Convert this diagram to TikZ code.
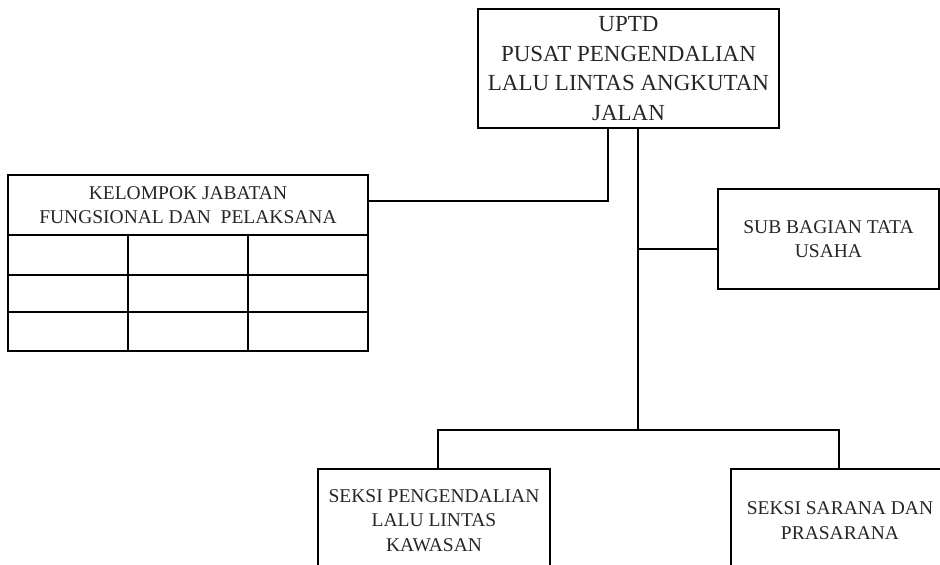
\documentclass[tikz,border=0pt]{standalone}
\usepackage{fontspec}
\setmainfont{Liberation Serif}
\begin{document}
\begin{tikzpicture}[x=1pt,y=-1pt,
  box/.style={draw, line width=1.3pt, inner sep=0pt, align=center, text=black!85},
  bigtxt/.style={font=\fontsize{23}{29.5}\selectfont},
  smalltxt/.style={font=\fontsize{19.5}{24.5}\selectfont},
  conn/.style={line width=1.3pt}]
\useasboundingbox (0,0) rectangle (940,565);
\clip (0,0) rectangle (940,565);
% top
\node[box, bigtxt, minimum width=301pt, minimum height=119pt] (top) at (628.5,68.5)
  {UPTD\\PUSAT PENGENDALIAN\\LALU LINTAS ANGKUTAN\\JALAN};
% kelompok
\node[box, smalltxt, minimum width=360pt, minimum height=60pt] (kel) at (188,205)
  {KELOMPOK JABATAN\\FUNGSIONAL DAN~~PELAKSANA};
\node[box, minimum width=120pt, minimum height=40pt] (c11) at (68,255) {};
\node[box, minimum width=120pt, minimum height=40pt] (c12) at (188,255) {};
\node[box, minimum width=120pt, minimum height=40pt] (c13) at (308,255) {};
\node[box, minimum width=120pt, minimum height=37pt] (c21) at (68,293.5) {};
\node[box, minimum width=120pt, minimum height=37pt] (c22) at (188,293.5) {};
\node[box, minimum width=120pt, minimum height=37pt] (c23) at (308,293.5) {};
\node[box, minimum width=120pt, minimum height=39pt] (c31) at (68,331.5) {};
\node[box, minimum width=120pt, minimum height=39pt] (c32) at (188,331.5) {};
\node[box, minimum width=120pt, minimum height=39pt] (c33) at (308,331.5) {};
% sub bagian
\node[box, smalltxt, minimum width=221pt, minimum height=100pt] (sub) at (828.5,239)
  {SUB BAGIAN TATA\\USAHA};
% seksi
\node[box, smalltxt, minimum width=232pt, minimum height=103pt] (s1) at (434,520.5)
  {SEKSI PENGENDALIAN\\LALU LINTAS\\KAWASAN};
\node[box, smalltxt, minimum width=218pt, minimum height=103pt] (s2) at (840,520.5)
  {SEKSI SARANA DAN\\PRASARANA};
\coordinate (hub) at (638,430);
% connectors
\draw[conn] ([xshift=-20.5pt]top.south) |- ([yshift=4pt]kel.east);
\draw[conn] ([xshift=9.5pt]top.south) -- (hub);
\draw[conn] ([xshift=9.5pt]top.south) |- ([yshift=-10pt]sub.west);
\draw[conn] ([xshift=4pt]s1.north) |- (hub) -| ([xshift=-1pt]s2.north);
\end{tikzpicture}
\end{document}
